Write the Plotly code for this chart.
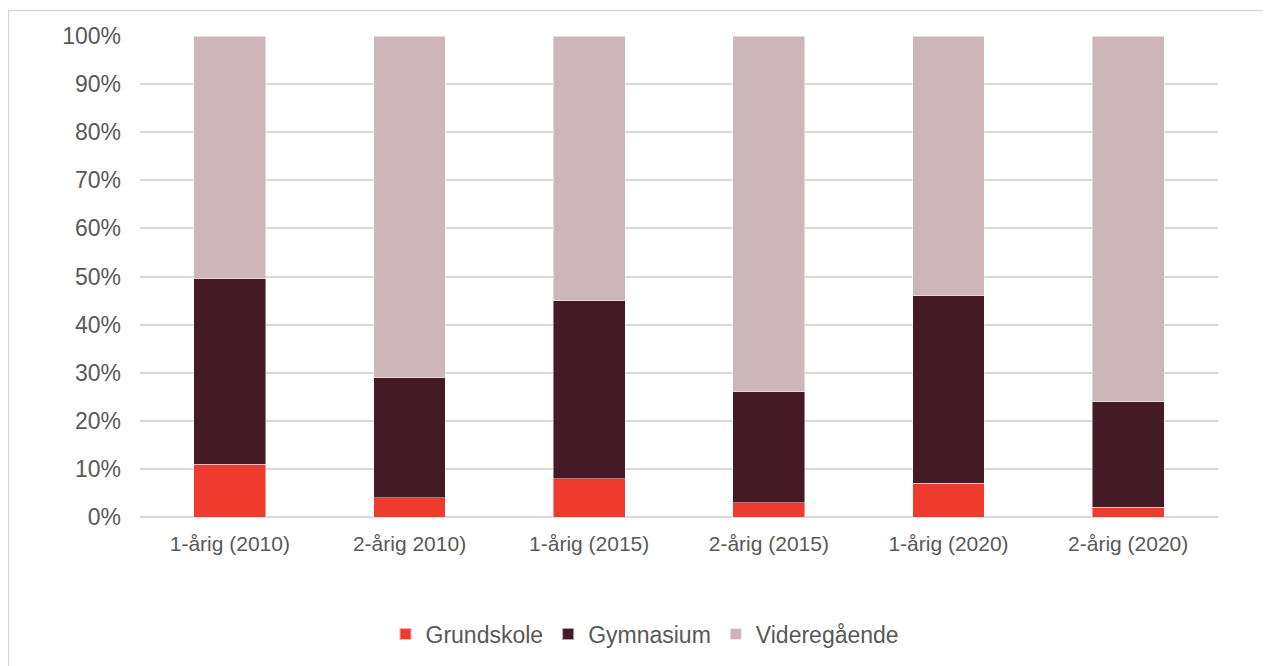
import plotly.graph_objects as go

categories = ["1-årig (2010)", "2-årig 2010)", "1-årig (2015)", "2-årig (2015)", "1-årig (2020)", "2-årig (2020)"]
grundskole = [11, 4, 8, 3, 7, 2]
gymnasium = [38.5, 25, 37, 23, 39, 22]
videregaaende = [50.5, 71, 55, 74, 54, 76]
tick_vals = [0, 10, 20, 30, 40, 50, 60, 70, 80, 90, 100]
tick_text = [f"{v}%" for v in tick_vals]

series = [
    ("Grundskole", grundskole, "#EE3B2E"),
    ("Gymnasium", gymnasium, "#431A25"),
    ("Videregående", videregaaende, "#CDB6B9"),
]

fig = go.Figure()
for name, vals, col in series:
    fig.add_trace(go.Bar(
        x=categories, y=vals, name=name,
        marker=dict(color=col, line=dict(color="rgba(255,255,255,0.6)", width=0.75)),
        width=0.4, hoverinfo="skip",
    ))

OFF = 8  # default page body margin
W, H = 1271 - OFF, 666 - OFF
L, R, T, B = 140 - OFF, 53, 36 - OFF, 149
pw, ph = W - L - R, H - T - B

def px(x):  # screen x -> paper
    return (x - OFF - L) / pw

def py(y):  # screen y -> paper
    return (H - B - (y - OFF)) / ph

fig.update_layout(
    barmode="stack",
    width=W, height=H,
    margin=dict(l=L, r=R, t=T, b=B, autoexpand=False),
    paper_bgcolor="white", plot_bgcolor="white",
    font=dict(family="Liberation Sans, Arial, sans-serif", color="#595959"),
    showlegend=True,
    legend=dict(orientation="h", x=px(645), xref="paper", xanchor="center",
                y=py(634), yref="paper", yanchor="middle", font=dict(size=23, color="#595959"),
                traceorder="normal", itemwidth=30, itemsizing="constant", tracegroupgap=0),
    xaxis=dict(showgrid=False, showline=False, ticks="", tickangle=0, automargin=False,
               ticklabelstandoff=12, tickfont=dict(size=21, color="#595959")),
    yaxis=dict(range=[0, 100], tickvals=tick_vals, ticktext=tick_text, automargin=False,
               showgrid=True, gridcolor="#D9D9D9", gridwidth=1.5, zeroline=True,
               zerolinecolor="#D9D9D9", zerolinewidth=1.5, ticklabelstandoff=18,
               ticks="", ticklen=0, tickfont=dict(size=23, color="#595959")),
    shapes=[dict(type="rect", xref="paper", yref="paper",
                 x0=px(8.5), x1=px(1285), y0=py(680), y1=py(10.5),
                 line=dict(color="#D9D9D9", width=1.5), layer="below")],
)

fig.write_html("out.html")
